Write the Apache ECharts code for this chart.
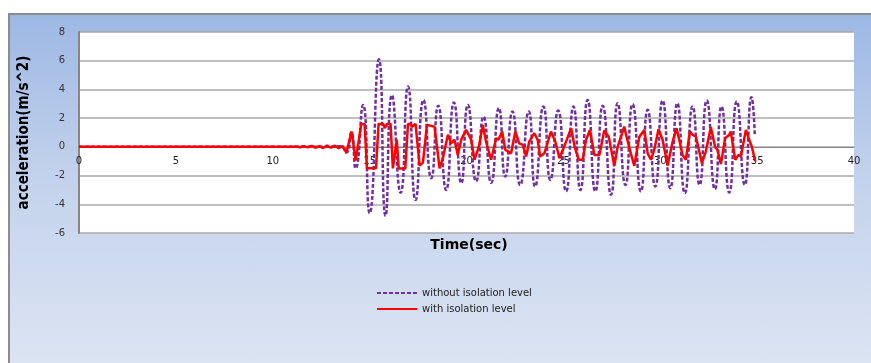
<!DOCTYPE html>
<html>
<head>
<meta charset="utf-8">
<script src="https://cdn.jsdelivr.net/npm/echarts@6/dist/echarts.min.js"></script>
<style>
	body { margin: 0; background: #fff; }
	#frame {
		position: absolute; left: 8px; top: 13px; width: 863px; height: 360px;
		border-left: 2px solid #8c8c8c; border-top: 2px solid #8c8c8c;
		background: linear-gradient(to bottom, #9db8e4 0%, #c3d2ec 45%, #dde5f3 100%);
	}
	#main { position: absolute; left: 0; top: 0; width: 871px; height: 363px; }
</style>
</head>
<body>
<div id="frame"></div>
<div id="main"></div>
<script>
// without isolation level (purple, dashed)
const timeWithout = [0, 13.0, 13.5, 13.8, 14.05, 14.28, 14.66, 15.0, 15.48, 15.82, 16.15, 16.6, 16.98, 17.37,
	17.78, 18.18, 18.54, 18.95, 19.35, 19.73, 20.07, 20.5, 20.88, 21.27, 21.67, 22.0, 22.37, 22.77, 23.21,
	23.54, 23.97, 24.33, 24.73, 25.14, 25.52, 25.88, 26.25, 26.65, 27.03, 27.46, 27.8, 28.2, 28.57, 29.0,
	29.35, 29.74, 30.12, 30.52, 30.88, 31.27, 31.67, 32.03, 32.4, 32.82, 33.16, 33.56, 33.95, 34.36, 34.71, 34.88];
const accWithout = [0, 0, 0.05, -0.4, 1.0, -1.5, 2.92, -4.62, 6.1, -4.8, 3.6, -3.2, 4.2, -3.7,
	3.27, -2.18, 2.86, -3.0, 3.09, -2.53, 2.92, -2.4, 2.1, -2.5, 2.7, -2.07, 2.46, -2.65, 2.46,
	-2.76, 2.81, -2.3, 2.53, -3.1, 2.81, -3.0, 3.27, -3.1, 2.86, -3.34, 3.04, -2.65, 2.97, -3.1,
	2.58, -2.76, 3.23, -2.88, 3.04, -3.23, 2.81, -2.65, 3.23, -2.95, 2.81, -3.18, 3.16, -2.65, 3.46, 0.84];

// with isolation level (red, solid)
const timeWith = [0, 11, 11.2, 11.4, 11.6, 11.8, 12.0, 12.2, 12.4, 12.6, 12.8, 13.0, 13.2, 13.4, 13.6, 13.8,
	14.07, 14.28, 14.57, 14.74, 14.86, 15.33, 15.46, 15.7, 15.78, 15.9, 16.08, 16.2, 16.4, 16.5, 16.84, 16.98,
	17.1, 17.18, 17.37, 17.58, 17.75, 17.96, 18.35, 18.61, 18.78, 19.04, 19.21, 19.38, 19.55, 19.73, 19.98,
	20.24, 20.41, 20.64, 20.84, 21.01, 21.27, 21.53, 21.65, 21.84, 22.0, 22.15, 22.3, 22.52, 22.72, 22.9,
	23.08, 23.24, 23.5, 23.67, 23.8, 24.02, 24.36, 24.58, 24.8, 25.04, 25.4, 25.58, 25.79, 26.0, 26.17,
	26.37, 26.6, 26.86, 27.11, 27.34, 27.63, 27.8, 28.14, 28.3, 28.48, 28.66, 28.92, 29.18, 29.35, 29.52,
	29.69, 29.91, 30.12, 30.38, 30.64, 30.84, 30.98, 31.15, 31.32, 31.53, 31.67, 31.84, 32.15, 32.35, 32.61,
	32.83, 32.95, 33.13, 33.35, 33.56, 33.64, 33.87, 34.04, 34.16, 34.42, 34.59, 34.73, 34.9];
const accWith = [0, 0, 0.03, -0.03, 0.05, -0.04, 0.07, -0.06, 0.05, -0.08, 0.09, -0.06, 0.08, -0.1, 0.06, -0.4,
	1.07, -0.95, 1.6, 1.6, -1.49, -1.49, 1.6, 1.6, 1.3, 1.6, 1.6, -1.5, 0.5, -1.5, -1.5, 1.6,
	1.6, 1.4, 1.6, -1.3, -1.1, 1.53, 1.4, -1.49, -0.8, 0.84, 0.25, 0.5, -0.56, 0.5, 1.18,
	0.5, -0.9, 0.03, 1.53, 0.36, -0.9, 0.6, 0.5, 1.07, -0.2, -0.33, -0.45, 1.07, 0.25, 0.14,
	-0.67, 0.37, 0.95, 0.5, -0.67, -0.45, 1.07, 0.37, -0.79, 0.02, 1.3, 0.02, -0.9, -0.9, 0.5,
	1.18, -0.56, -0.56, 1.14, 0.7, -1.32, 0, 1.41, 0.5, -0.45, -1.32, 0.7, 1.18, -0.45, -0.9,
	-0.2, 1.23, 0.5, -1.3, 0.37, 1.3, 0.5, -0.56, -0.9, 1.07, 0.84, 0.7, -1.14, -0.33, 1.37,
	0, -0.2, -1.2, 0.6, 0.84, 1.07, -0.9, -0.56, -0.67, 1.18, 0.5, 0, -1.0];

const xTicks = { min: 0, max: 40, interval: 5 };
const yTicks = { min: -6, max: 8, interval: 2 };

let pairs = (ts, vs) => ts.map((t, i) => [t, vs[i]]);

let myChart = echarts.init(document.getElementById('main'));
let option = {
	backgroundColor: 'transparent',
	animation: false,
	grid: {
		left: 79,
		right: 17,
		top: 32,
		bottom: 130,
		show: true,
		backgroundColor: '#fff',
		borderWidth: 0
	},
	legend: {
		orient: 'vertical',
		left: 376,
		top: 288,
		padding: 0,
		itemWidth: 40,
		itemHeight: 12,
		itemGap: 6,
		itemStyle: { opacity: 0 },
		textStyle: {
			fontFamily: 'DejaVu Sans',
			fontSize: 10,
			color: '#222'
		},
		data: ['without isolation level', 'with isolation level']
	},
	graphic: [{
		type: 'text',
		x: 469,
		y: 245,
		style: {
			text: 'Time(sec)',
			font: 'bold 14px "DejaVu Sans"',
			fill: '#000',
			align: 'center',
			verticalAlign: 'middle'
		}
	}],
	xAxis: {
		type: 'value',
		min: xTicks.min,
		max: xTicks.max,
		interval: xTicks.interval,
		// axis sits on the zero line (plot bottom 233, zero at 147)
		offset: -86,
		splitLine: { show: false },
		axisTick: { show: false },
		axisLine: {
			onZero: false,
			lineStyle: { color: '#868686', width: 1 }
		},
		axisLabel: {
			margin: 9,
			fontFamily: 'DejaVu Sans',
			fontSize: 10,
			color: '#222'
		}
	},
	yAxis: {
		type: 'value',
		min: yTicks.min,
		max: yTicks.max,
		interval: yTicks.interval,
		name: 'acceleration(m/s^2)',
		nameLocation: 'middle',
		nameRotate: 90,
		nameGap: 47,
		nameTextStyle: {
			fontFamily: '"Liberation Sans Narrow", "DejaVu Sans Condensed", sans-serif',
			fontWeight: 'bold',
			fontSize: 15,
			color: '#000'
		},
		axisTick: { show: false },
		axisLine: {
			show: true,
			onZero: false,
			lineStyle: { color: '#868686', width: 2 }
		},
		splitLine: {
			lineStyle: { color: '#aaaaaa', width: 1.5 }
		},
		axisLabel: {
			margin: 14,
			fontFamily: 'DejaVu Sans',
			fontSize: 10,
			color: '#333'
		}
	},
	series: [{
		name: 'without isolation level',
		type: 'line',
		symbol: 'none',
		smooth: 0.6,
		lineStyle: {
			color: '#7030a0',
			width: 2.5,
			type: [4, 2]
		},
		itemStyle: { color: '#7030a0' },
		data: pairs(timeWithout, accWithout)
	}, {
		name: 'with isolation level',
		type: 'line',
		symbol: 'none',
		lineStyle: {
			color: '#ff0000',
			width: 2.5
		},
		itemStyle: { color: '#ff0000' },
		data: pairs(timeWith, accWith)
	}]
};
myChart.setOption(option);
</script>
</body>
</html>
